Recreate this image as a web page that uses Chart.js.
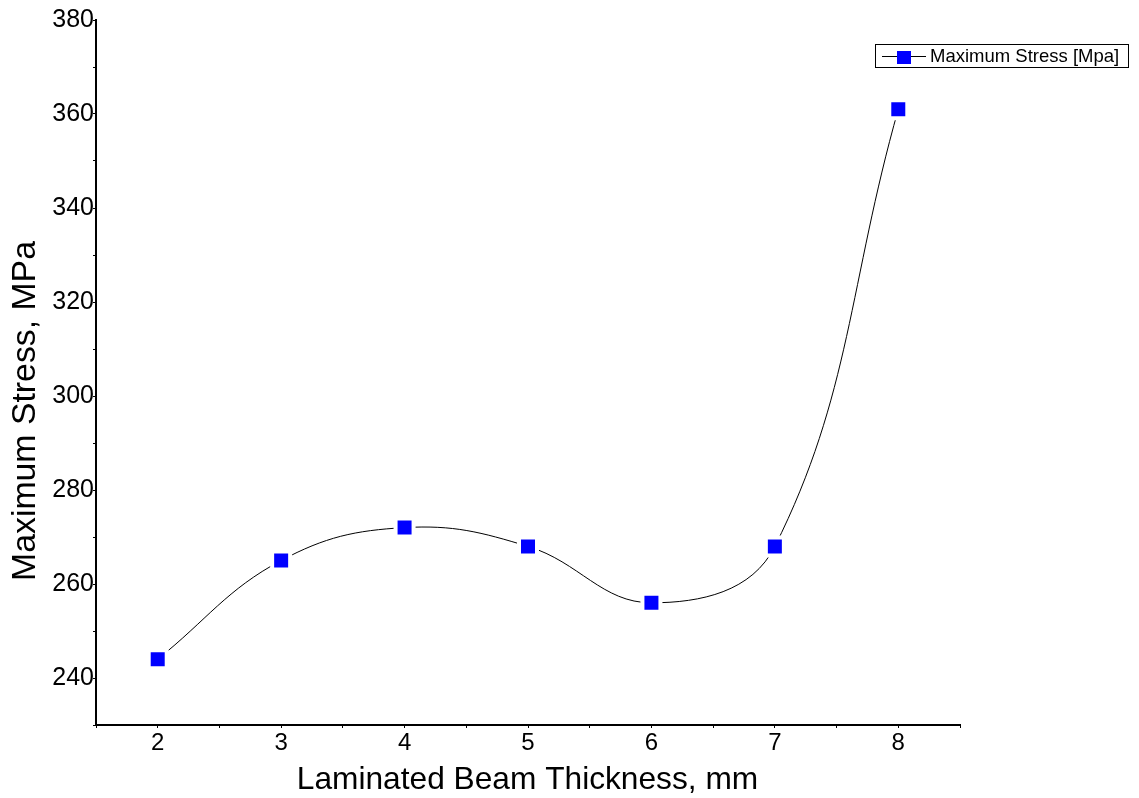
<!DOCTYPE html>
<html>
<head>
<meta charset="utf-8">
<script src="https://cdn.jsdelivr.net/npm/chart.js@4.4.1/dist/chart.umd.min.js"></script>
<style>
  html, body { margin: 0; padding: 0; background: #ffffff; }
  #wrap { position: relative; width: 1139px; height: 798px; }
</style>
</head>
<body>
<div id="wrap"><canvas id="c" width="1139" height="798"></canvas></div>
<script>
// ---- Data ----
const thickness = [2, 3, 4, 5, 6, 7, 8];
const maxStress = [244, 265, 272, 268, 256, 268, 361];
const seriesName = 'Maximum Stress [Mpa]';
const xTitle = 'Laminated Beam Thickness, mm';
const yTitle = 'Maximum Stress, MPa';

const FONT = "'Liberation Sans', Arial, Helvetica, sans-serif";

const titlesAndLegend = {
  id: 'titlesAndLegend',
  afterDraw(chart) {
    const ctx = chart.ctx;
    const area = chart.chartArea;
    ctx.save();
    ctx.fillStyle = '#000';
    // x title
    ctx.font = '31.7px ' + FONT;
    ctx.textAlign = 'center';
    ctx.textBaseline = 'alphabetic';
    ctx.fillText(xTitle, 527.5, 789);
    // y title
    ctx.save();
    ctx.translate(35, 411);
    ctx.rotate(-Math.PI / 2);
    ctx.font = '33.8px ' + FONT;
    ctx.textAlign = 'center';
    ctx.fillText(yTitle, 0, 0);
    ctx.restore();
    // legend box
    ctx.strokeStyle = '#000';
    ctx.lineWidth = 1;
    ctx.strokeRect(875.5, 44.5, 253, 23);
    ctx.beginPath();
    ctx.moveTo(882, 56.5);
    ctx.lineTo(926, 56.5);
    ctx.stroke();
    ctx.fillStyle = '#0000ff';
    ctx.fillRect(897, 51, 14, 13);
    ctx.fillStyle = '#000';
    ctx.font = '18.5px ' + FONT;
    ctx.textAlign = 'left';
    ctx.textBaseline = 'middle';
    ctx.fillText(seriesName, 930, 57);
    ctx.restore();
  }
};

new Chart(document.getElementById('c'), {
  type: 'line',
  data: {
    datasets: [{
      label: seriesName,
      data: thickness.map((x, i) => ({ x: x, y: maxStress[i] })),
      borderColor: '#000000',
      borderWidth: 1,
      tension: 0.4,
      fill: false,
      pointStyle: 'rect',
      pointRadius: 12.73,
      pointHoverRadius: 12.73,
      pointBackgroundColor: '#0000ff',
      pointBorderColor: '#ffffff',
      pointBorderWidth: 4,
      clip: false
    }]
  },
  options: {
    responsive: false,
    animation: false,
    events: [],
    layout: { padding: { left: 0, right: 179, top: 20, bottom: 0 } },
    plugins: {
      legend: { display: false },
      tooltip: { enabled: false },
      title: { display: false }
    },
    scales: {
      x: {
        type: 'linear',
        min: 1.5,
        max: 8.5,
        afterFit(s) { s.height = 73; },
        border: { display: true, color: '#000', width: 2 },
        grid: { display: true, drawOnChartArea: false, drawTicks: true, tickLength: 3, color: '#000' },
        ticks: {
          stepSize: 0.5,
          autoSkip: false,
          maxRotation: 0,
          padding: 1,
          color: '#000',
          font: { family: FONT, size: 24 },
          callback: v => Number.isInteger(v) ? String(v) : ''
        },
        title: { display: false }
      },
      y: {
        min: 230,
        max: 380,
        afterFit(s) { s.width = 96; },
        border: { display: true, color: '#000', width: 2 },
        grid: { display: true, drawOnChartArea: false, drawTicks: true, tickLength: 3, color: '#000' },
        ticks: {
          stepSize: 10,
          autoSkip: false,
          padding: -1,
          color: '#000',
          font: { family: FONT, size: 25 },
          callback: v => (v % 20 === 0) ? String(v) : ''
        },
        title: { display: false }
      }
    }
  },
  plugins: [titlesAndLegend]
});
</script>
</body>
</html>
